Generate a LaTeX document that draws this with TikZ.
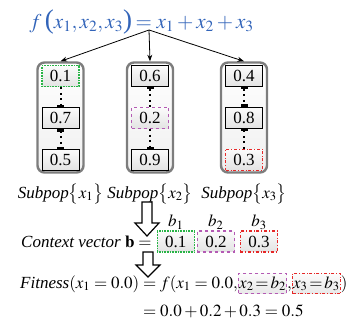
\documentclass[tikz,border=0pt]{standalone}
\usepackage{mathptmx}
\usepackage{fontspec}
\setmainfont{Liberation Serif}
\usetikzlibrary{positioning, arrows.meta, calc}
\definecolor{fblue}{RGB}{50,100,185}
\definecolor{hlgreen}{RGB}{40,180,70}
\definecolor{hlpurple}{RGB}{180,90,180}
\definecolor{hlred}{RGB}{230,40,40}
\definecolor{boxgray}{RGB}{125,125,125}
\newcommand{\tallparen}[1]{{\fontsize{27}{27}\selectfont #1}}

\begin{document}
\begin{tikzpicture}[x=1pt, y=-1pt, >=Stealth, node distance=20pt,
    colbox/.style={draw=boxgray, line width=2.4pt, rounded corners=7pt,
      minimum width=46pt, minimum height=110pt, top color=white, bottom color=gray!12},
    cell/.style={draw, line width=0.6pt, minimum width=37pt, minimum height=21pt,
      inner sep=0pt, top color=gray!3, bottom color=gray!22, font=\fontsize{17}{17}\selectfont},
    pill/.style={inner xsep=0.5pt, inner ysep=3pt, top color=gray!3, bottom color=gray!18,
      execute at begin node={\thickmuskip=2mu}},
    selA/.style={draw=hlgreen, densely dotted, line width=1.1pt},
    selB/.style={draw=hlpurple, dashed, line width=1.1pt},
    selC/.style={draw=hlred, dash dot, line width=1.1pt},
    barend/.tip={Rectangle[length=2.5pt, width=7pt]},
    link/.style={line width=2pt, dash pattern=on 2pt off 3.5pt},
    rowtext/.style={inner sep=0pt, font=\fontsize{17}{20}\selectfont},
    hollow/.style={draw, line width=1.2pt, fill=white, line join=miter}]
  \useasboundingbox (0,0) rectangle (347,324);

  % objective function
  \node[rowtext, text=fblue, font=\fontsize{21}{25}\selectfont, anchor=base] (func) at (141.5,28)
    {$f$\,\tallparen{(}$x_1,x_2,x_3$\tallparen{)}\,$=x_1+x_2+x_3$};
  \coordinate (fork) at (149,30);

  % subpopulations
  \node[colbox] (col1) at (60.5,117.5) {};
  \node[colbox] (col2) at (150,117.5) {};
  \node[colbox] (col3) at (244,117.5) {};
  \node[cell, selA, below=4pt of col1.north] (c1a) {0.1};
  \node[cell, below=of c1a] (c1b) {0.7};
  \node[cell, below=of c1b] (c1c) {0.5};
  \node[cell, below=4pt of col2.north] (c2a) {0.6};
  \node[cell, selB, below=of c2a] (c2b) {0.2};
  \node[cell, below=of c2b] (c2c) {0.9};
  \node[cell, below=4pt of col3.north] (c3a) {0.4};
  \node[cell, below=of c3a] (c3b) {0.8};
  \node[cell, selC, below=of c3b] (c3c) {0.3};
  \draw[link, -barend] (c1a) -- (c1b);
  \draw[link, barend-barend] (c1b) -- (c1c);
  \draw[link, barend-] (c2a) -- (c2b);
  \draw[link, -barend] (c2b) -- (c2c);
  \draw[link, barend-barend] (c3a) -- (c3b);
  \draw[link, barend-] (c3b) -- (c3c);

  \draw[->, line width=0.8pt] (fork) -- (col1.north);
  \draw[->, line width=0.8pt] (fork) -- (col2.north);
  \draw[->, line width=0.8pt] (fork) -- (col3.north);

  \node[rowtext, below=10pt of col1] (sub1) {\textit{Subpop}$\big\{x_1\big\}$};
  \node[rowtext, below=10pt of col2] (sub2) {\textit{Subpop}$\big\{x_2\big\}$};
  \node[rowtext, below=10pt of col3] (sub3) {\textit{Subpop}$\big\{x_3\big\}$};

  % context vector
  \coordinate (drop1) at (147,202);
  \draw[hollow] ($(drop1)+(-5,0)$) -- ++(0,21) -- ++(-7,0) -- ($(drop1)+(0,34)$)
    -- ($(drop1)+(12,21)$) -- ++(-7,0) -- ($(drop1)+(5,0)$) -- cycle;
  \node[rowtext, anchor=base west] (ctx) at (21,247) {\textit{Context vector} $\mathbf{b}=$};
  \node[cell, selA, right=5pt of ctx.base east, anchor=base west] (b1) {0.1};
  \node[cell, selB, right=2pt of b1.base east, anchor=base west] (b2) {0.2};
  \node[cell, selC, right=5pt of b2.base east, anchor=base west] (b3) {0.3};
  \node[rowtext, above=1pt of b1] (lb1) {$b_1$};
  \node[rowtext, above=1pt of b2] (lb2) {$b_2$};
  \node[rowtext, above=1pt of b3] (lb3) {$b_3$};

  % fitness
  \coordinate (drop2) at (148,252);
  \draw[hollow] ($(drop2)+(-5,0)$) -- ++(0,13) -- ++(-7,0) -- ($(drop2)+(0,25)$)
    -- ($(drop2)+(12,13)$) -- ++(-7,0) -- ($(drop2)+(5,0)$) -- cycle;
  \node[rowtext, anchor=base west] (fit) at (20,288) {\textit{Fitness}$(x_1=0.0)=f(x_1=0.0,$};
  \node[rowtext, pill, selB, right=0pt of fit.base east, anchor=base west] (x2b) {$x_2=b_2$};
  \node[rowtext, right=0pt of x2b.base east, anchor=base west] (comma) {$,$};
  \node[rowtext, pill, selC, right=0pt of comma.base east, anchor=base west] (x3b) {$x_3=b_3$};
  \node[rowtext, right=0pt of x3b.base east, anchor=base west] (close) {$)$};
  \node[rowtext, anchor=base west] (total) at (143,316) {$=0.0+0.2+0.3=0.5$};
\end{tikzpicture}
\end{document}
